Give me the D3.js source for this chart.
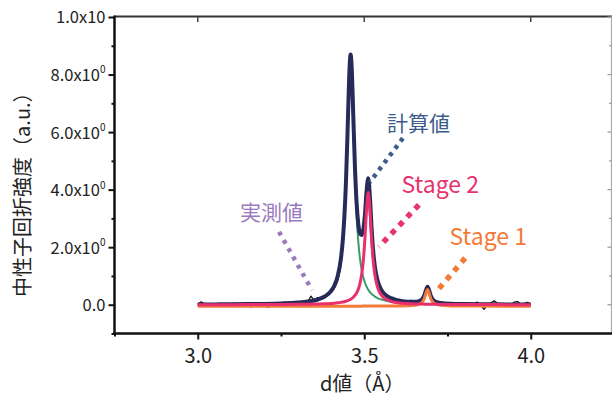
<!DOCTYPE html>
<html>
<head>
<meta charset="utf-8">
<script src="https://cdn.jsdelivr.net/npm/d3@7"></script>
<style>
  html, body { margin: 0; padding: 0; background: #fff; }
  svg { display: block; }
  text { font-family: "Noto Sans CJK JP", "Noto Sans", sans-serif; }
</style>
</head>
<body>
<svg id="chart" width="612" height="401"></svg>
<script>
// ---- fitted profile (d value in Å, intensity in a.u.) ----
const fitD = [3.00, 3.05, 3.10, 3.15, 3.20, 3.25, 3.30, 3.33, 3.36, 3.38,
  3.40, 3.41, 3.42, 3.43, 3.435, 3.44, 3.445, 3.45, 3.455, 3.459,
  3.463, 3.467, 3.472, 3.477, 3.482, 3.487, 3.492, 3.497, 3.502, 3.507,
  3.512, 3.517, 3.522, 3.527, 3.532, 3.54, 3.55, 3.56, 3.58, 3.60,
  3.63, 3.65, 3.665, 3.675, 3.68, 3.685, 3.69, 3.695, 3.70, 3.705,
  3.715, 3.73, 3.76, 3.80, 3.85, 3.90, 3.95, 4.00];

// 計算値 (fitted total)
const calcValues = [0.009, 0.012, 0.015, 0.021, 0.029, 0.045, 0.075, 0.111, 0.182, 0.277,
  0.473, 0.661, 0.986, 1.61, 2.16, 3.00, 4.24, 6.05, 8.00, 8.70,
  8.05, 6.60, 4.80, 3.55, 2.82, 2.48, 2.42, 2.60, 3.12, 3.95,
  4.40, 3.76, 2.68, 1.85, 1.32, 0.839, 0.541, 0.383, 0.228, 0.155,
  0.106, 0.100, 0.128, 0.208, 0.312, 0.493, 0.627, 0.488, 0.303, 0.194,
  0.105, 0.061, 0.035, 0.025, 0.017, 0.013, 0.011, 0.008];

// main component (green)
const mainPeakValues = [0.007, 0.009, 0.012, 0.016, 0.023, 0.036, 0.062, 0.093, 0.157, 0.244,
  0.428, 0.607, 0.920, 1.53, 2.07, 2.89, 4.12, 5.90, 7.82, 8.50,
  7.82, 6.30, 4.42, 3.08, 2.21, 1.62, 1.23, 0.964, 0.771, 0.630,
  0.524, 0.442, 0.378, 0.326, 0.284, 0.232, 0.185, 0.151, 0.106, 0.078,
  0.053, 0.043, 0.037, 0.034, 0.032, 0.031, 0.029, 0.028, 0.027, 0.026,
  0.024, 0.021, 0.017, 0.014, 0.010, 0.008, 0.007, 0.005];

// Stage 2 component
const stage2Values = [0.002, 0.003, 0.003, 0.004, 0.006, 0.008, 0.013, 0.017, 0.024, 0.032,
  0.044, 0.053, 0.065, 0.082, 0.092, 0.105, 0.121, 0.141, 0.165, 0.190,
  0.221, 0.259, 0.322, 0.410, 0.538, 0.730, 1.03, 1.52, 2.30, 3.32,
  3.90, 3.32, 2.30, 1.52, 1.03, 0.605, 0.354, 0.229, 0.118, 0.071,
  0.040, 0.029, 0.024, 0.021, 0.020, 0.019, 0.018, 0.017, 0.016, 0.015,
  0.014, 0.012, 0.009, 0.007, 0.005, 0.004, 0.003, 0.002];

// Stage 1 component
const stage1Values = [-0.050, -0.050, -0.050, -0.050, -0.050, -0.049, -0.049, -0.049, -0.049, -0.049,
  -0.049, -0.049, -0.049, -0.049, -0.049, -0.049, -0.049, -0.049, -0.049, -0.049,
  -0.049, -0.049, -0.049, -0.049, -0.049, -0.049, -0.049, -0.048, -0.048, -0.048,
  -0.048, -0.048, -0.048, -0.048, -0.048, -0.048, -0.048, -0.047, -0.046, -0.044,
  -0.037, -0.022, 0.017, 0.103, 0.210, 0.393, 0.530, 0.393, 0.210, 0.103,
  0.017, -0.022, -0.041, -0.046, -0.048, -0.049, -0.049, -0.049];

// ---- 実測値 (measured pattern) ----
const measD = [3.00, 3.01, 3.02, 3.03, 3.04, 3.05, 3.06, 3.07, 3.08, 3.09,
  3.10, 3.11, 3.12, 3.13, 3.14, 3.15, 3.16, 3.17, 3.18, 3.19,
  3.20, 3.21, 3.22, 3.23, 3.24, 3.25, 3.26, 3.27, 3.28, 3.29,
  3.30, 3.31, 3.32, 3.33, 3.34, 3.35, 3.36, 3.37, 3.38, 3.39,
  3.40, 3.41, 3.42,
  3.425, 3.43, 3.435, 3.44, 3.445, 3.45, 3.455, 3.46, 3.465, 3.47,
  3.475, 3.48, 3.485, 3.49, 3.495, 3.50, 3.505, 3.51, 3.515, 3.52,
  3.525, 3.53, 3.535, 3.54, 3.545,
  3.55, 3.56, 3.57, 3.58, 3.59, 3.60, 3.61, 3.62, 3.63, 3.64, 3.65, 3.66, 3.67,
  3.675, 3.68, 3.685, 3.69, 3.695, 3.70, 3.705,
  3.71, 3.72, 3.73, 3.74, 3.75, 3.76, 3.77, 3.78, 3.79, 3.80,
  3.81, 3.82, 3.83, 3.84, 3.85, 3.86, 3.87, 3.88, 3.89, 3.90,
  3.91, 3.92, 3.93, 3.94, 3.95, 3.96, 3.97, 3.98, 3.99, 4.00];

const measValues = [0.02, 0.10, 0.03, -0.02, 0.01, 0.03, -0.04, 0.00, 0.02, -0.06,
  0.01, 0.03, -0.07, -0.02, 0.02, -0.05, -0.08, 0.00, -0.06, -0.03,
  0.02, -0.09, -0.04, 0.03, -0.05, 0.01, 0.04, -0.03, 0.05, 0.02,
  0.06, 0.04, 0.09, 0.10, 0.30, 0.14, 0.25, 0.20, 0.27, 0.33,
  0.42, 0.56, 0.82,
  1.05, 1.40, 1.90, 2.70, 3.95, 5.85, 7.90, 8.62, 7.45, 5.60,
  4.05, 3.05, 2.60, 2.45, 2.55, 2.90, 3.60, 4.28, 4.12, 3.15,
  2.20, 1.55, 1.12, 0.86, 0.68,
  0.55, 0.40, 0.30, 0.24, 0.20, 0.16, 0.14, 0.12, 0.13, 0.15, 0.11, 0.12, 0.16,
  0.22, 0.32, 0.50, 0.62, 0.47, 0.30, 0.18,
  0.12, 0.08, 0.06, 0.04, 0.05, 0.03, 0.01, 0.04, 0.02, 0.03,
  0.00, 0.02, 0.05, 0.09, -0.03, -0.16, 0.02, 0.06, 0.14, 0.05,
  0.02, 0.04, 0.03, 0.01, 0.09, 0.11, 0.03, 0.05, 0.08, 0.03];

// ---- axes ----
const xTicks = [3.0, 3.5, 4.0];
const xMinorTicks = [2.75, 3.25, 3.75];
const yTicks = [0, 2, 4, 6, 8, 10];
const yTickText = ["0.0", "2.0x10", "4.0x10", "6.0x10", "8.0x10", "1.0x10"];
const yTickSup = ["", "0", "0", "0", "0", ""];
const yMinorTicks = [-1, 1, 3, 5, 7, 9];
const xTitle = "d値（Å）";
const yTitle = "中性子回折強度（a.u.）";

// ---- callouts: label anchor and leader ends, in (d, intensity) ----
const calloutText = ["計算値", "Stage 2", "Stage 1", "実測値"];
const calloutAt = [[3.568, 6.05], [3.612, 3.88], [3.756, 2.08], [3.127, 2.93]];
const leaderFrom = [[3.616, 5.79], [3.664, 3.47], [3.803, 1.62], [3.244, 2.53]];
const leaderTo = [[3.517, 4.26], [3.544, 2.01], [3.713, 0.41], [3.343, 0.51]];

// ---- styles ----
const calloutStyle = [
  { color: "#3d5b8c", size: 21, dotW: 4.5, dash: "4 5" },
  { color: "#e8336e", size: 23, dotW: 5.5, dash: "5.5 6" },
  { color: "#f47a38", size: 23, dotW: 5.5, dash: "5.5 6" },
  { color: "#9a7abf", size: 21, dotW: 4.5, dash: "4 5.5" }
];

const svg = d3.select("#chart");
const W = 612;
const padL = 114.5, padR = 614, padT = 17, padB = 333.5;

const x = d3.scaleLinear().domain([2.75, 4.25]).range([padL, padR]);
const y = d3.scaleLinear().domain([-1, 10]).range([padB, padT]);

const zip = (ds, vs) => ds.map((d, i) => [d, vs[i]]);
const smooth = d3.line().x(p => x(p[0])).y(p => y(p[1])).curve(d3.curveMonotoneX);
const rawLine = d3.line().x(p => x(p[0])).y(p => y(p[1]));

const plot = svg.append("g");

// main component and measured data sit under the fitted total
plot.append("path").datum(zip(fitD, mainPeakValues))
  .attr("d", smooth).attr("fill", "none")
  .attr("stroke", "#3b9a6a").attr("stroke-width", 2);

plot.append("path").datum(zip(measD, measValues))
  .attr("d", rawLine).attr("fill", "none")
  .attr("stroke", "#111").attr("stroke-width", 1.2).attr("stroke-linejoin", "round");

plot.append("path").datum(zip(fitD, calcValues))
  .attr("d", smooth).attr("fill", "none")
  .attr("stroke", "#272b59").attr("stroke-width", 4).attr("stroke-linejoin", "round");

plot.append("path").datum(zip(fitD, stage1Values))
  .attr("d", smooth).attr("fill", "none")
  .attr("stroke", "#f47a38").attr("stroke-width", 3);

plot.append("path").datum(zip(fitD, stage2Values))
  .attr("d", smooth).attr("fill", "none")
  .attr("stroke", "#e8306c").attr("stroke-width", 3);

// ---- frame ----
const frame = svg.append("g");
frame.append("line").attr("x1", padL).attr("x2", W).attr("y1", 16.5).attr("y2", 16.5)
  .attr("stroke", "#333").attr("stroke-width", 2);
frame.append("line").attr("x1", 611.5).attr("x2", 611.5).attr("y1", 16.5).attr("y2", padB)
  .attr("stroke", "#aaa").attr("stroke-width", 1.2);
// inward ticks on top and right
frame.selectAll(".tt").data(xTicks).join("line")
  .attr("x1", d => x(d)).attr("x2", d => x(d)).attr("y1", 16.5).attr("y2", 22)
  .attr("stroke", "#444").attr("stroke-width", 1.5);
frame.selectAll(".rt").data(yTicks.concat(yMinorTicks)).join("line")
  .attr("x1", 611.5).attr("x2", d => yTicks.includes(d) ? 607.5 : 609)
  .attr("y1", d => y(d)).attr("y2", d => y(d))
  .attr("stroke", "#999").attr("stroke-width", 1.2);

// ---- left axis ----
const yAxis = d3.axisLeft(y).tickValues(yTicks).tickSize(6).tickPadding(3)
  .tickFormat((d, i) => yTickText[i]);
const gy = svg.append("g").attr("transform", `translate(${padL},0)`).call(yAxis);
gy.select(".domain").remove();
gy.selectAll(".tick line").attr("stroke", "#111").attr("stroke-width", 2);
gy.selectAll(".tick text")
  .attr("fill", "#222").attr("font-size", 16.5).attr("dy", "0.36em")
  .attr("font-family", "'Noto Sans CJK JP', 'Noto Sans', sans-serif")
  .each(function (d, i) {
    if (yTickSup[i]) {
      d3.select(this).append("tspan")
        .attr("font-size", 10).attr("dy", "-0.75em").text(yTickSup[i]);
    }
  });
const gyMinor = svg.append("g").attr("transform", `translate(${padL},0)`)
  .call(d3.axisLeft(y).tickValues(yMinorTicks).tickSize(3).tickFormat(""));
gyMinor.select(".domain").remove();
gyMinor.selectAll(".tick line").attr("stroke", "#111").attr("stroke-width", 2);

// ---- bottom axis ----
const gx = svg.append("g").attr("transform", `translate(0,${padB})`)
  .call(d3.axisBottom(x).tickValues(xTicks).tickSize(6).tickFormat(d3.format(".1f")));
gx.select(".domain").remove();
gx.selectAll(".tick line").attr("stroke", "#111").attr("stroke-width", 2);
gx.selectAll(".tick text")
  .attr("fill", "#222").attr("font-size", 20).attr("y", 29.5).attr("dy", 0)
  .attr("font-family", "'Noto Sans CJK JP', 'Noto Sans', sans-serif");
const gxMinor = svg.append("g").attr("transform", `translate(0,${padB})`)
  .call(d3.axisBottom(x).tickValues(xMinorTicks).tickSize(3).tickFormat(""));
gxMinor.select(".domain").remove();
gxMinor.selectAll(".tick line").attr("stroke", "#111").attr("stroke-width", 2);

// axis lines
frame.append("line").attr("x1", padL).attr("x2", padL).attr("y1", 15.5).attr("y2", padB + 1.25)
  .attr("stroke", "#111").attr("stroke-width", 2.5);
frame.append("line").attr("x1", padL - 1.25).attr("x2", W).attr("y1", padB).attr("y2", padB)
  .attr("stroke", "#111").attr("stroke-width", 2.5);

// ---- axis titles ----
svg.append("text")
  .attr("x", x(3.5) - 2).attr("y", 391)
  .attr("text-anchor", "middle").attr("font-size", 20).attr("fill", "#222")
  .text(xTitle);
svg.append("text")
  .attr("transform", `translate(21,${y(4.0)}) rotate(-90)`)
  .attr("text-anchor", "middle").attr("dominant-baseline", "central")
  .attr("font-size", 20).attr("fill", "#222")
  .text(yTitle);

// ---- callouts ----
const callouts = svg.append("g");
calloutText.forEach((t, i) => {
  const s = calloutStyle[i];
  callouts.append("line")
    .attr("x1", x(leaderFrom[i][0])).attr("y1", y(leaderFrom[i][1]))
    .attr("x2", x(leaderTo[i][0])).attr("y2", y(leaderTo[i][1]))
    .attr("stroke", s.color).attr("stroke-width", s.dotW)
    .attr("stroke-dasharray", s.dash);
  callouts.append("text")
    .attr("x", x(calloutAt[i][0])).attr("y", y(calloutAt[i][1]))
    .attr("font-size", s.size).attr("fill", s.color)
    .text(t);
});
</script>
</body>
</html>
